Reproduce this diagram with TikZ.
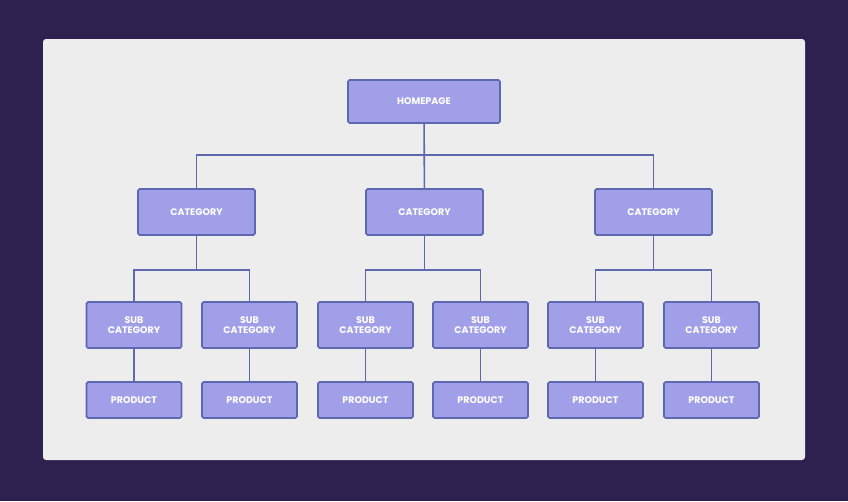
\documentclass[tikz,border=0pt]{standalone}
\usepackage{fontspec}
\setmainfont{Poppins}
\begin{document}
\begin{tikzpicture}[x=1pt,y=-1pt,
  box/.style={draw=edgec,fill=boxc,line width=1.6pt,rounded corners=1.5pt,text=white,font=\fontsize{9.5}{10.5}\selectfont\bfseries,align=center,inner sep=0pt},
  link/.style={draw=edgec,line width=1.6pt}]
\definecolor{bgc}{HTML}{2E2150}
\definecolor{panel}{HTML}{EDEDED}
\definecolor{boxc}{HTML}{A09FE8}
\definecolor{edgec}{HTML}{5E68B0}
\fill[bgc] (0,0) rectangle (848,501);
\useasboundingbox (0,0) rectangle (848,501);
\fill[panel,rounded corners=3pt] (43,39) rectangle (805,460);
\node[box,minimum width=152pt,minimum height=43pt] (home) at (424,101.5) {HOMEPAGE};
\foreach \i/\x in {1/196.5,2/424.5,3/653.5}
  \node[box,minimum width=117pt,minimum height=46pt] (c\i) at (\x,212) {CATEGORY};
\foreach \i/\x in {1/134,2/249.5,3/365.5,4/480.5,5/595.5,6/711.5}{
  \node[box,minimum width=95pt,minimum height=46pt] (s\i) at (\x,325) {SUB\\CATEGORY};
  \node[box,minimum width=95pt,minimum height=36pt] (p\i) at (\x,400) {PRODUCT};
  \draw[link] (s\i) -- (p\i);
}
\draw[link] (home) -- (c2);
\draw[link] (c1.north) -- ++(0,-33) -| (c3.north);
\foreach \c/\a/\b in {c1/s1/s2,c2/s3/s4,c3/s5/s6}{
  \draw[link] (\c) -- (\c.south |- 0,270);
  \draw[link] (\a.north) -- (\a.north |- 0,270) -| (\b.north);
}
\end{tikzpicture}
\end{document}
